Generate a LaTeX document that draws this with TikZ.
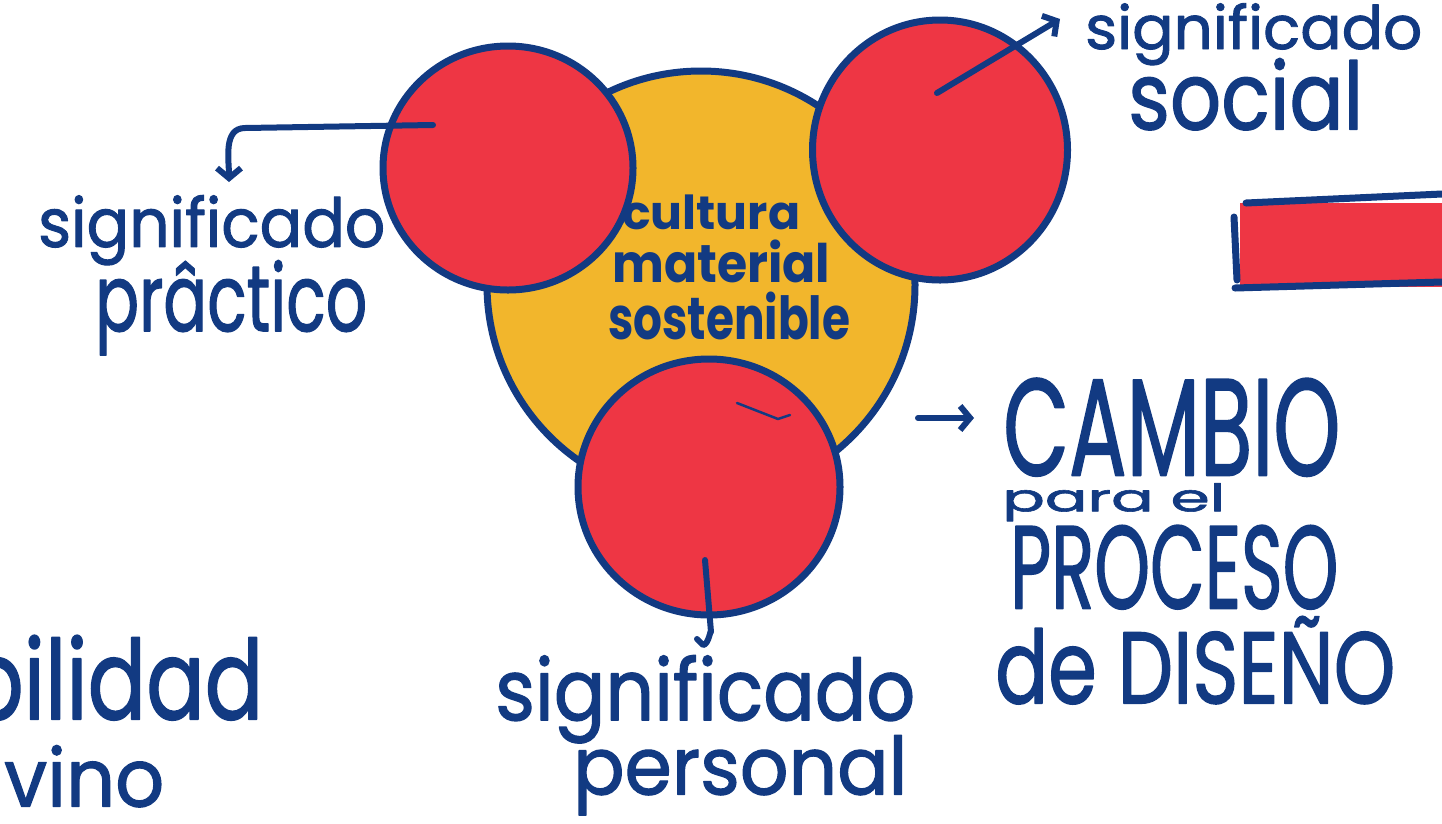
\documentclass[tikz,border=0pt]{standalone}
\usepackage{fontspec}
\setmainfont{Poppins}
\newfontfamily\handfont{Poppins}[FakeBold=1.5]
\usepackage{graphicx}
\usetikzlibrary{arrows.meta,shapes.geometric}
\definecolor{navy}{RGB}{18,58,130}
\definecolor{crayonred}{RGB}{238,54,68}
\definecolor{crayonyellow}{RGB}{242,182,44}
\newcommand{\fitto}[3]{\resizebox*{#1pt}{#2pt}{\handfont #3}}
\begin{document}
\begin{tikzpicture}[x=1pt,y=-1pt,line cap=round,line join=round,
  outline/.style={draw=navy,line width=7pt},
  redblob/.style={ellipse,fill=crayonred,outline,inner sep=0pt},
  yellowblob/.style={circle,fill=crayonyellow,outline,inner sep=0pt},
  lbl/.style={anchor=north west,inner sep=0pt,text=navy},
  arr/.style={draw=navy,line width=6pt,-{Straight Barb[length=10pt,width=24pt]}},
  hookline/.style={draw=navy,line width=6pt}]
\fill[white] (0,0) rectangle (1442,823);
\useasboundingbox (0,0) rectangle (1442,823);

% central blob and circles
\node[yellowblob,minimum size=428pt] (cult) at (701,285) {};
\node[redblob,minimum width=250pt,minimum height=244pt] (prac) at (508,168) {};
\node[redblob,minimum width=255pt,minimum height=260pt] (soc) at (940,150) {};
\node[redblob,minimum width=262pt,minimum height=256pt] (pers) at (709,487) {};
\draw[navy,line width=2.5pt] (737,403) -- (778,419) -- (790,415);

% red bar at right
\fill[crayonred] (1240,203) rectangle (1442,287);
\draw[outline] (1246,203) -- (1442,194);
\draw[outline] (1235,288) -- (1442,282);
\draw[outline] (1234,217) -- (1237,280);

% labels
\node[lbl] (pl1) at (38,195) {\fitto{347}{70}{significado}};
\node[lbl] (pl2) at (95,260) {\fitto{272}{95}{prâctico}};
\node[lbl] (sl1) at (1085,3) {\fitto{337}{62}{significado}};
\node[lbl] (sl2) at (1128,58) {\fitto{235}{72}{social}};
\node[lbl] (c1) at (622,195) {\resizebox*{178pt}{35pt}{\bfseries cultura}};
\node[lbl] (c2) at (612,240) {\resizebox*{218pt}{43pt}{\bfseries material}};
\node[lbl] (c3) at (608,292) {\resizebox*{242pt}{48pt}{\bfseries sostenible}};
\node[lbl] (pe1) at (495,655) {\fitto{420}{88}{significado}};
\node[lbl] (pe2) at (573,735) {\fitto{334}{80}{personal}};
\node[lbl] (ca1) at (1003,378) {\fitto{337}{98}{CAMBIO}};
\node[lbl] (ca2) at (1002,483) {\fitto{223}{38}{para el}};
\node[lbl] (ca3) at (1010,525) {\fitto{328}{84}{PROCESO}};
\node[lbl] (ca4) at (995,616) {\fitto{400}{88}{de DISEÑO}};
\node[lbl] (b1) at (-35,635) {\fitto{298}{85}{bilidad}};
\node[lbl] (b2) at (4,745) {\fitto{160}{62}{vino}};

% connectors
\coordinate (pracA) at (433,125);
\coordinate (pracT) at (229,182);
\draw[arr] (pracA) -- (245,128) to[out=180,in=90] (pracT);
\coordinate (socA) at (937,93);
\coordinate (socT) at (1060,19);
\draw[arr] (socA) -- (socT);
\coordinate (persA) at (705,560);
\coordinate (persB) at (711,632);
\coordinate (persT) at (697,639);
\draw[hookline] (persA) -- (persB) to[out=90,in=0] (703,645) -- (persT);
\coordinate (cbA) at (918,418);
\coordinate (cbT) at (974,418);
\draw[arr] (cbA) -- (cbT);
\end{tikzpicture}
\end{document}
